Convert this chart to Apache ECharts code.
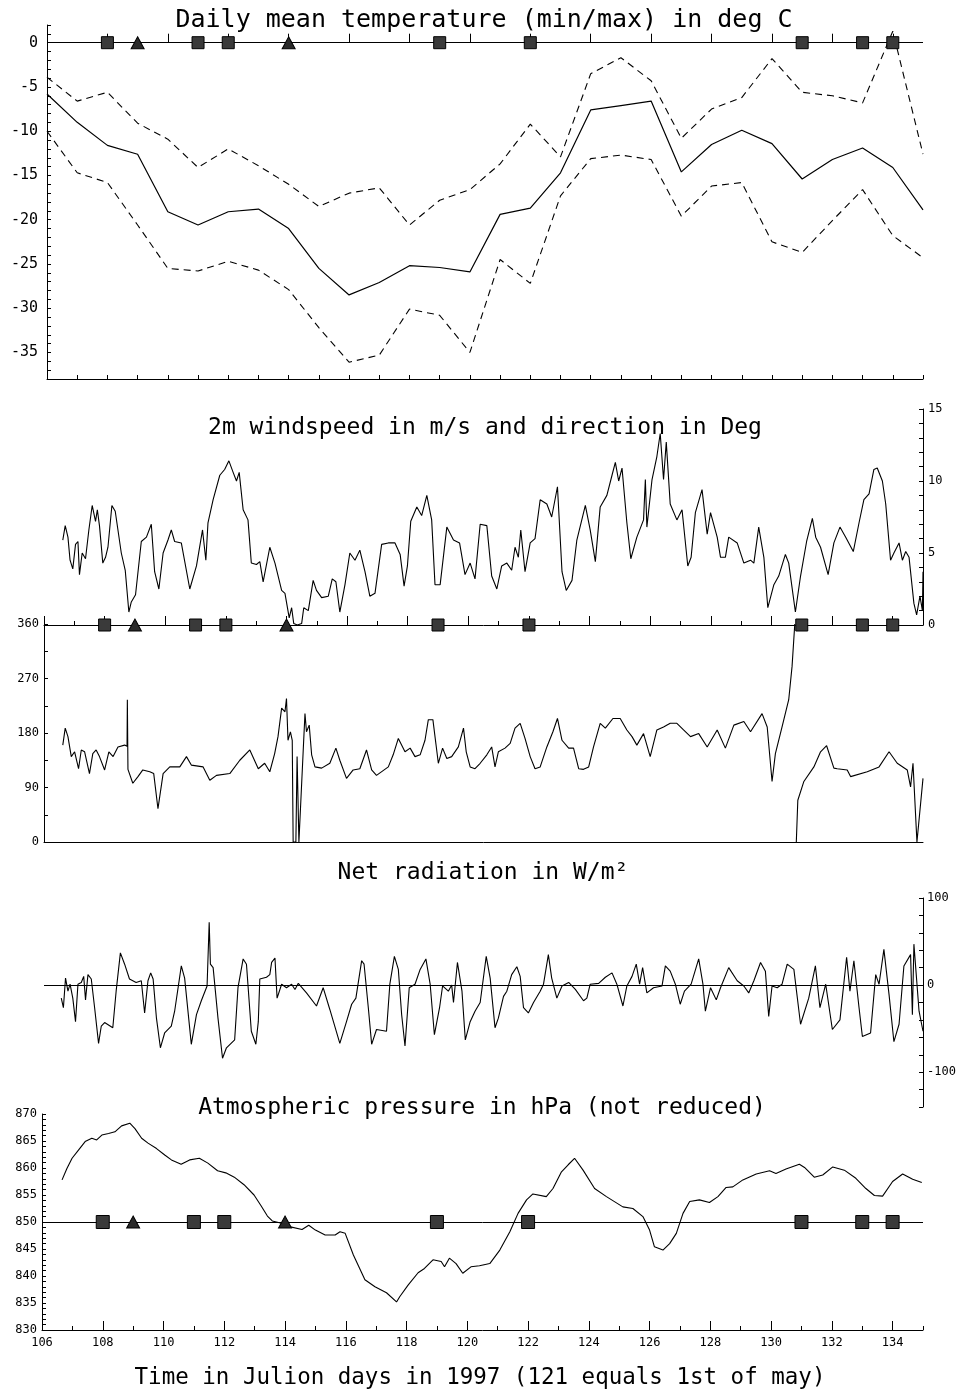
<!DOCTYPE html>
<html><head><meta charset="utf-8">
<script src="https://cdn.jsdelivr.net/npm/echarts@6/dist/echarts.min.js"></script>
<style>html,body{margin:0;padding:0;background:#fff}#c{width:963px;height:1393px}</style>
</head><body><div id="c"></div>
<script>
// ---------- DATA ----------
const tempDays = [106,107,108,109,110,111,112,113,114,115,116,117,118,119,120,121,122,123,124,125,126,127,128,129,130,131,132,133,134,135];
const tempMean = [-5.8,-9.0,-11.6,-12.6,-19.1,-20.6,-19.1,-18.8,-21.0,-25.5,-28.5,-27.1,-25.2,-25.4,-25.9,-19.4,-18.7,-14.7,-7.6,-7.1,-6.6,-14.6,-11.5,-9.9,-11.4,-15.4,-13.2,-11.9,-14.1,-18.9];
const tempMax  = [-3.9,-6.6,-5.6,-9.1,-10.9,-14.1,-12.0,-13.9,-16.0,-18.5,-17.0,-16.4,-20.6,-17.8,-16.6,-13.7,-9.2,-12.9,-3.5,-1.7,-4.3,-10.8,-7.5,-6.2,-1.8,-5.6,-6.0,-6.8,1.3,-12.6];
const tempMin  = [-10.0,-14.7,-15.8,-20.6,-25.5,-25.8,-24.7,-25.7,-27.9,-32.2,-36.1,-35.3,-30.1,-30.8,-35.0,-24.5,-27.2,-17.3,-13.1,-12.7,-13.2,-19.6,-16.2,-15.8,-22.5,-23.7,-20.1,-16.6,-21.8,-24.3];

const squareDays = [108,111,112,119,122,131,133,134];
const triangleDays = [109,114];

const windDays = [106.62,106.70,106.79,106.86,106.95,107.04,107.12,107.17,107.26,107.37,107.48,107.59,107.70,107.76,107.83,107.94,108.03,108.11,108.24,108.35,108.55,108.68,108.80,108.88,109.02,109.21,109.38,109.54,109.65,109.79,109.93,110.09,110.20,110.31,110.53,110.81,111.03,111.23,111.34,111.41,111.58,111.80,111.96,112.10,112.24,112.35,112.44,112.57,112.73,112.84,113.01,113.12,113.23,113.45,113.62,113.84,113.95,114.09,114.17,114.24,114.36,114.50,114.57,114.72,114.88,114.99,115.16,115.38,115.51,115.63,115.76,115.93,116.09,116.26,116.42,116.59,116.75,116.92,117.14,117.36,117.58,117.75,117.88,117.99,118.10,118.30,118.46,118.63,118.79,118.90,119.07,119.29,119.51,119.71,119.89,120.06,120.22,120.39,
120.61,120.77,120.94,121.10,121.27,121.43,121.54,121.65,121.73,121.87,122.04,122.20,122.37,122.59,122.75,122.94,123.09,123.23,123.42,123.58,123.86,124.02,124.19,124.35,124.57,124.74,124.85,124.96,125.07,125.23,125.36,125.56,125.78,125.84,125.89,126.06,126.22,126.33,126.44,126.53,126.66,126.88,127.05,127.24,127.35,127.49,127.71,127.88,127.99,128.21,128.32,128.48,128.59,128.87,129.09,129.31,129.42,129.58,129.75,129.88,130.08,130.24,130.46,130.57,130.79,130.96,131.16,131.35,131.46,131.62,131.87,132.06,132.26,132.45,132.70,132.89,133.05,133.22,133.38,133.49,133.66,133.77,133.93,134.04,134.21,134.32,134.43,134.54,134.70,134.79,134.90,134.98,135.00];
const windSpeed = [5.9,6.9,6.1,4.5,3.9,5.6,5.8,3.5,5.0,4.6,6.6,8.3,7.2,8.0,6.9,4.3,4.7,5.4,8.3,7.9,5.0,3.8,0.9,1.6,2.1,5.8,6.1,7.0,3.7,2.5,5.0,5.9,6.6,5.8,5.7,2.5,4.1,6.6,4.5,7.1,8.7,10.4,10.8,11.4,10.6,10.0,10.6,8.0,7.3,4.3,4.2,4.4,3.0,5.4,4.3,2.4,2.2,0.5,1.2,0.1,0.0,0.1,1.2,1.0,3.1,2.4,1.9,2.0,3.2,3.0,0.9,2.8,5.0,4.5,5.2,3.7,2.0,2.2,5.6,5.7,5.7,4.9,2.7,4.1,7.2,8.2,7.6,9.0,7.3,2.8,2.8,6.8,5.9,5.7,3.5,4.3,3.2,7.0,
6.9,3.4,2.5,4.1,4.3,3.8,5.4,4.7,6.6,3.7,5.7,6.0,8.7,8.4,7.5,9.6,3.7,2.4,3.1,5.9,8.3,6.6,4.4,8.2,9.0,10.4,11.3,10.0,10.9,7.1,4.6,6.1,7.3,10.1,6.8,10.1,11.7,13.3,10.1,12.7,8.4,7.3,8.0,4.1,4.7,7.8,9.4,6.3,7.8,6.1,4.7,4.7,6.1,5.7,4.3,4.5,4.3,6.8,4.7,1.2,2.8,3.4,4.9,4.3,0.9,3.4,5.8,7.4,6.1,5.4,3.5,5.7,6.8,6.1,5.1,7.1,8.7,9.1,10.8,10.9,10.0,8.4,4.5,5.0,5.7,4.5,5.1,4.7,1.5,0.7,2.0,1.0,3.7];

const dirDays = [106.62,106.70,106.79,106.90,107.01,107.14,107.23,107.34,107.50,107.61,107.72,107.83,108.00,108.14,108.28,108.44,108.66,108.74,108.75,108.77,108.93,109.10,109.26,109.49,109.62,109.76,109.93,110.15,110.48,110.70,110.86,111.25,111.47,111.69,112.13,112.46,112.79,113.07,113.28,113.45,113.61,113.72,113.84,113.95,114.00,114.05,114.13,114.19,114.22,114.31,114.35,114.41,114.47,114.55,114.61,114.66,114.75,114.83,114.94,115.16,115.43,115.63,115.76,115.98,116.20,116.42,116.64,116.81,116.97,117.36,117.52,117.69,117.91,118.08,118.24,118.41,118.57,118.68,118.83,119.01,119.15,119.29,119.45,119.67,119.84,119.93,120.06,120.22,120.39,
120.61,120.77,120.88,120.99,121.21,121.38,121.54,121.71,121.87,122.04,122.20,122.37,122.59,122.79,122.94,123.09,123.31,123.47,123.64,123.80,123.97,124.13,124.35,124.52,124.77,125.01,125.23,125.40,125.56,125.78,126.00,126.22,126.44,126.66,126.88,127.10,127.33,127.60,127.88,128.21,128.48,128.76,129.09,129.31,129.69,129.86,130.02,130.13,130.35,130.57,130.68,130.77,130.795,130.82,130.87,131.07,131.40,131.62,131.82,132.06,132.17,132.50,132.61,133.16,133.55,133.88,134.15,134.48,134.59,134.67,134.72,134.80,135.00];
const windDir = [160,188,174,141,149,121,152,149,113,146,152,141,119,149,141,157,160,158,235,120,97,108,119,116,113,55,113,124,124,141,127,124,102,110,113,135,152,121,130,116,146,174,221,215,237,168,182,168,0,0,141,0,0,149,212,182,193,144,124,122,130,155,135,105,119,121,152,119,110,124,144,171,149,155,141,144,168,202,202,130,155,138,141,157,188,149,124,121,130,
144,157,124,149,155,163,188,196,171,141,121,124,157,182,204,168,155,155,121,120,124,157,196,188,204,204,185,174,160,179,141,185,190,196,196,185,174,179,157,185,155,193,199,182,212,190,100,146,190,235,290,360,null,0,69,100,124,149,159,122,121,119,108,116,124,149,130,119,91,130,127,0,105];

const radDays = [106.57,106.64,106.71,106.79,106.86,106.95,107.04,107.12,107.23,107.31,107.37,107.45,107.56,107.67,107.80,107.89,108.00,108.27,108.38,108.52,108.66,108.82,109.04,109.21,109.32,109.43,109.52,109.60,109.71,109.84,109.98,110.20,110.31,110.53,110.64,110.86,111.03,111.19,111.38,111.45,111.49,111.58,111.74,111.89,112.02,112.29,112.40,112.57,112.68,112.84,112.99,113.07,113.12,113.34,113.45,113.51,113.62,113.69,113.84,114.00,114.17,114.28,114.39,114.66,114.99,115.21,115.43,115.76,115.98,116.15,116.29,116.48,116.56,116.70,116.81,116.97,117.30,117.41,117.56,117.69,117.80,117.91,118.05,118.24,118.41,118.60,118.74,118.88,119.05,119.15,119.34,119.45,119.51,119.64,119.79,119.90,120.06,120.22,120.39,
120.59,120.72,120.88,120.99,121.16,121.27,121.43,121.60,121.71,121.82,121.98,122.15,122.37,122.48,122.64,122.75,122.92,123.09,123.31,123.53,123.80,123.91,124.02,124.30,124.52,124.74,124.90,125.10,125.23,125.40,125.54,125.65,125.75,125.89,126.11,126.39,126.50,126.66,126.83,126.99,127.13,127.35,127.60,127.74,127.82,127.99,128.18,128.32,128.59,128.87,129.09,129.25,129.42,129.64,129.80,129.91,130.02,130.19,130.35,130.52,130.74,130.96,131.23,131.45,131.60,131.79,132.01,132.26,132.48,132.59,132.72,132.89,133.00,133.27,133.44,133.55,133.71,133.88,134.04,134.21,134.37,134.59,134.65,134.70,134.87,135.00];
const netRad = [-15,-26,8,-7,1,-15,-42,1,3,10,-17,12,7,-26,-67,-47,-43,-49,-7,37,24,7,3,5,-32,5,14,7,-38,-72,-55,-47,-30,22,8,-68,-34,-18,-1,72,24,20,-38,-84,-72,-63,-3,30,24,-53,-68,-42,7,9,12,26,31,-15,1,-3,1,-5,2,-9,-24,-3,-28,-67,-42,-22,-15,28,24,-26,-68,-51,-53,1,33,18,-34,-70,-3,1,18,30,1,-57,-26,-1,-7,0,-20,26,-7,-63,-42,-30,-20,
33,8,-49,-38,-13,-7,12,21,10,-26,-32,-20,-7,1,35,8,-15,-1,3,-5,-18,-15,1,2,9,14,1,-24,-1,10,24,1,20,-9,-3,-1,22,16,1,-22,-7,1,30,1,-30,-3,-17,-3,20,5,-1,-9,5,26,16,-36,-1,-3,1,24,18,-45,-15,22,-26,1,-51,-40,32,-7,28,-26,-59,-55,12,1,41,-11,-65,-45,22,35,-34,47,-30,-53];

const presDays = [106.66,106.82,106.99,107.20,107.42,107.64,107.80,107.97,108.19,108.40,108.62,108.89,109.06,109.28,109.49,109.77,110.04,110.26,110.58,110.86,111.18,111.46,111.78,112.05,112.33,112.65,112.98,113.20,113.42,113.58,113.85,114.18,114.56,114.78,115.00,115.32,115.65,115.81,115.98,116.25,116.63,116.96,117.34,117.67,117.78,118.05,118.38,118.59,118.87,119.14,119.25,119.41,119.63,119.85,120.12,120.40,120.74,121.07,121.40,121.67,121.95,122.16,122.60,122.82,123.10,123.32,123.53,123.81,124.19,124.58,125.12,125.45,125.78,126.00,126.16,126.44,126.66,126.88,127.10,127.32,127.64,127.97,128.25,128.52,128.74,129.07,129.51,129.95,130.16,130.49,130.93,131.10,131.42,131.70,132.03,132.41,132.79,133.12,133.40,133.67,134.00,134.33,134.66,134.96];
const pressure = [857.8,859.9,861.8,863.3,864.9,865.5,865.2,866.1,866.4,866.7,867.8,868.3,867.3,865.5,864.6,863.6,862.4,861.5,860.7,861.5,861.8,860.9,859.5,859.1,858.3,856.9,855.0,853.1,851.1,850.2,849.8,849.1,848.6,849.4,848.5,847.6,847.6,848.2,847.9,843.9,839.3,838.0,836.9,835.2,836.2,838.3,840.6,841.4,843.0,842.7,841.7,843.3,842.3,840.5,841.7,841.9,842.3,844.8,848.2,851.6,854.1,855.2,854.7,856.2,859.3,860.6,861.8,859.6,856.2,854.7,852.8,852.5,851.0,848.5,845.4,844.8,846.0,847.9,851.6,853.8,854.1,853.6,854.7,856.4,856.5,857.8,858.9,859.5,859.0,859.8,860.7,860.1,858.3,858.7,860.2,859.6,858.1,856.2,854.9,854.8,857.5,858.9,857.9,857.3];

const titles = ['Daily mean temperature (min/max) in deg C','2m windspeed in m/s and direction in Deg','Net radiation in W/m\u00B2','Atmospheric pressure in hPa (not reduced)'];
const xTitle = 'Time in Julion days in 1997 (121 equals 1st of may)';

// ---------- CHART ----------
const MONO = '"DejaVu Sans Mono", "Liberation Mono", monospace';
const zip = (xs, ys) => xs.map((x, i) => [x, ys[i] === null ? '-' : ys[i]]);
const evenDays = []; for (let d = 106; d <= 134; d += 2) evenDays.push(d);
const BLACK = '#000';
const line = { lineStyle: { color: BLACK, width: 1 } };

function xMain(grid, opt) {
  return Object.assign({
    type: 'value', gridIndex: grid, min: 106, max: 135, interval: 1,
    axisLine: { show: true, onZero: false, lineStyle: { color: BLACK, width: 1 } },
    axisTick: { show: true, inside: true, length: 4, lineStyle: { color: BLACK } },
    axisLabel: { show: false }, splitLine: { show: false }
  }, opt || {});
}
function xMajor(grid) {
  return {
    type: 'value', gridIndex: grid, min: 106, max: 135, position: 'bottom',
    axisLine: { show: false },
    axisTick: { show: true, inside: true, length: 9, customValues: evenDays, lineStyle: { color: BLACK } },
    axisLabel: { show: false }, splitLine: { show: false }
  };
}
function yAx(grid, min, max, interval, pos, every, fs, margin) {
  return {
    type: 'value', gridIndex: grid, min: min, max: max, interval: interval, position: pos,
    axisLine: { show: true, onZero: false, lineStyle: { color: BLACK, width: 1 } },
    axisTick: { show: true, inside: true, length: 4, lineStyle: { color: BLACK } },
    axisLabel: { show: true, color: BLACK, fontFamily: MONO, fontSize: fs, margin: margin,
      formatter: v => (Math.abs(v % every) < 1e-9 ? String(v) : '') },
    splitLine: { show: false }
  };
}
function markers(xi, yi, days, y, sym, size, color) {
  return {
    type: 'scatter', xAxisIndex: xi, yAxisIndex: yi, clip: false, z: 5,
    symbol: sym, symbolSize: size,
    itemStyle: { color: color, borderColor: BLACK, borderWidth: 1, opacity: 1 },
    data: days.map(d => [d, y])
  };
}
function hLine(y) {
  return { silent: true, symbol: 'none', label: { show: false }, animation: false,
    lineStyle: { color: BLACK, type: 'solid', width: 1 }, data: [{ yAxis: y }] };
}

const option = {
  animation: false,
  backgroundColor: '#fff',
  grid: [
    { left: 47, top: 25, width: 876, height: 354 },
    { left: 44, top: 409, width: 879, height: 216 },
    { left: 44, top: 624, width: 879, height: 218 },
    { left: 44, top: 898, width: 879, height: 209 },
    { left: 42, top: 1114, width: 881, height: 216 }
  ],
  xAxis: [
    xMain(0), xMajor(0),
    xMain(1), xMajor(1),
    xMain(2, { axisTick: { show: false } }),
    xMain(3, { show: false }),
    xMain(4, { axisLabel: { show: true, color: BLACK, fontFamily: MONO, fontSize: 12, margin: 7,
      formatter: v => (v % 2 === 0 && v <= 134 ? String(v) : '') } }),
    xMajor(4)
  ],
  yAxis: [
    yAx(0, -38, 2, 1, 'left', 5, 15, 9),
    yAx(1, 0, 15, 1, 'right', 5, 12, 5),
    yAx(2, 0, 360, 45, 'left', 90, 12, 5),
    yAx(3, -140, 100, 20, 'right', 100, 12, 4),
    yAx(4, 830, 870, 1, 'left', 5, 12, 5)
  ],
  graphic: [
    { type: 'text', x: 484, y: 20, style: { text: titles[0], font: '25px ' + MONO, fill: BLACK, textAlign: 'center', textVerticalAlign: 'middle' } },
    { type: 'text', x: 485, y: 428, style: { text: titles[1], font: '23px ' + MONO, fill: BLACK, textAlign: 'center', textVerticalAlign: 'middle' } },
    { type: 'text', x: 483, y: 873, style: { text: titles[2], font: '23px ' + MONO, fill: BLACK, textAlign: 'center', textVerticalAlign: 'middle' } },
    { type: 'text', x: 482, y: 1108, style: { text: titles[3], font: '23px ' + MONO, fill: BLACK, textAlign: 'center', textVerticalAlign: 'middle' } },
    { type: 'text', x: 480, y: 1378, style: { text: xTitle, font: '22.5px ' + MONO, fill: BLACK, textAlign: 'center', textVerticalAlign: 'middle' } }
  ],
  series: [
    { type: 'line', xAxisIndex: 0, yAxisIndex: 0, symbol: 'none', data: zip(tempDays, tempMean),
      lineStyle: { color: BLACK, width: 1.2 }, markLine: hLine(0) },
    { type: 'line', xAxisIndex: 0, yAxisIndex: 0, symbol: 'none', data: zip(tempDays, tempMax),
      lineStyle: { color: BLACK, width: 1.1, type: [7, 5] } },
    { type: 'line', xAxisIndex: 0, yAxisIndex: 0, symbol: 'none', data: zip(tempDays, tempMin),
      lineStyle: { color: BLACK, width: 1.1, type: [7, 5] } },
    markers(0, 0, squareDays, 0, 'rect', 12, '#3a3a3a'),
    markers(0, 0, triangleDays, 0, 'triangle', [13, 12], '#2a2a2a'),

    { type: 'line', xAxisIndex: 2, yAxisIndex: 1, symbol: 'none', data: zip(windDays, windSpeed),
      lineStyle: { color: BLACK, width: 1.1 } },
    markers(2, 1, squareDays, 0, 'rect', 12, '#3a3a3a'),
    markers(2, 1, triangleDays, 0, 'triangle', [13, 12], '#2a2a2a'),

    { type: 'line', xAxisIndex: 4, yAxisIndex: 2, symbol: 'none', connectNulls: false, data: zip(dirDays, windDir),
      lineStyle: { color: BLACK, width: 1.1 } },

    { type: 'line', xAxisIndex: 5, yAxisIndex: 3, symbol: 'none', data: zip(radDays, netRad),
      lineStyle: { color: BLACK, width: 1.1 }, markLine: hLine(0) },

    { type: 'line', xAxisIndex: 6, yAxisIndex: 4, symbol: 'none', data: zip(presDays, pressure),
      lineStyle: { color: BLACK, width: 1.1 }, markLine: hLine(850) },
    markers(6, 4, squareDays, 850, 'rect', 13, '#3a3a3a'),
    markers(6, 4, triangleDays, 850, 'triangle', [13, 12], '#2a2a2a')
  ]
};
const chart = echarts.init(document.getElementById('c'), null, { renderer: 'canvas' });
chart.setOption(option);
</script>
</body></html>
